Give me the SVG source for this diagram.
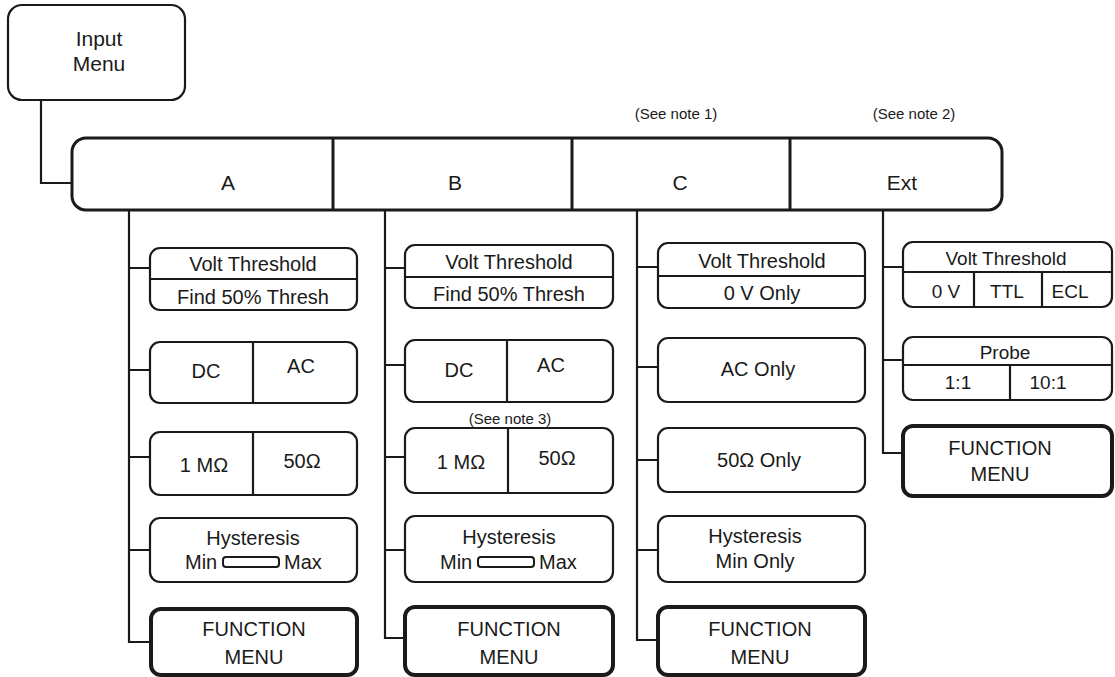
<svg xmlns="http://www.w3.org/2000/svg" width="1115" height="677" viewBox="0 0 1115 677">
<style>
rect.box{fill:#fff;stroke:#1a1a1a;stroke-width:2.2}
rect.fm{stroke-width:4}
rect.bar{stroke-width:3}
line.div{stroke:#1a1a1a;stroke-width:2.2}
line.bdiv{stroke:#1a1a1a;stroke-width:3}
path.conn{fill:none;stroke:#1a1a1a;stroke-width:2.2}
text{font-family:"Liberation Sans",Arial,sans-serif;fill:#1a1a1a;text-anchor:middle}
text.st{text-anchor:start}
.t20{font-size:20px}
.t21{font-size:21px}
.t19{font-size:19px}
.tn{font-size:15px}
rect.slider{fill:#fff;stroke:#1a1a1a;stroke-width:2}
</style>
<rect width="1115" height="677" fill="#fff"/>
<g id="connectors">
<path class="conn" d="M41,100 V183 H72"/>
<path class="conn" d="M129,210 V642 H150 M129,268 H150 M129,370 H150 M129,457 H150 M129,550 H150"/>
<path class="conn" d="M385,210 V638 H405 M385,268 H405 M385,365 H405 M385,457 H405 M385,550 H405"/>
<path class="conn" d="M637,210 V640 H658 M637,267 H658 M637,367 H658 M637,460 H658 M637,550 H658"/>
<path class="conn" d="M883,210 V453 H903 M883,267 H903 M883,360 H903"/>
</g>
<g id="input-menu">
<rect class="box" x="8" y="5" width="177" height="95" rx="14"/>
<text class="t21" x="99" y="46">Input</text>
<text class="t21" x="99" y="71">Menu</text>
</g>
<g id="channel-bar">
<rect class="box bar" x="72" y="138" width="930" height="72" rx="14"/>
<line class="bdiv" x1="333" y1="138" x2="333" y2="210"/>
<line class="bdiv" x1="572" y1="138" x2="572" y2="210"/>
<line class="bdiv" x1="790" y1="138" x2="790" y2="210"/>
<text class="t21" x="228" y="190">A</text>
<text class="t21" x="455" y="190">B</text>
<text class="t21" x="680" y="190">C</text>
<text class="t21" x="902" y="190">Ext</text>
<text class="tn" x="676" y="119">(See note 1)</text>
<text class="tn" x="914" y="119">(See note 2)</text>
</g>
<g id="a-volt">
<rect class="box" x="150" y="248" width="207" height="62" rx="10"/>
<line class="div" x1="150" y1="279" x2="357" y2="279"/>
<text class="t20" x="253" y="271">Volt Threshold</text>
<text class="t20" x="253" y="304">Find 50% Thresh</text>
</g>
<g id="a-coupling">
<rect class="box" x="150" y="342" width="207" height="61" rx="10"/>
<line class="div" x1="253" y1="342" x2="253" y2="403"/>
<text class="t20" x="206" y="378">DC</text>
<text class="t20" x="301" y="373">AC</text>
</g>
<g id="a-impedance">
<rect class="box" x="150" y="432" width="207" height="63" rx="10"/>
<line class="div" x1="253" y1="432" x2="253" y2="495"/>
<text class="t20" x="204" y="472">1 MΩ</text>
<text class="t20" x="302" y="468">50Ω</text>
</g>
<g id="a-hysteresis">
<rect class="box" x="150" y="518" width="207" height="64" rx="10"/>
<text class="t20" x="253" y="545">Hysteresis</text>
<text class="t20 st" x="185" y="569">Min</text>
<rect class="slider" x="223" y="557" width="56" height="10" rx="3"/>
<text class="t20 st" x="284" y="569">Max</text>
</g>
<g id="a-function">
<rect class="box fm" x="151" y="609" width="206" height="66" rx="10"/>
<text class="t20" x="254" y="636">FUNCTION</text>
<text class="t20" x="254" y="664">MENU</text>
</g>
<g id="b-volt">
<rect class="box" x="405" y="245" width="208" height="63" rx="10"/>
<line class="div" x1="405" y1="277" x2="613" y2="277"/>
<text class="t20" x="509" y="269">Volt Threshold</text>
<text class="t20" x="509" y="301">Find 50% Thresh</text>
</g>
<g id="b-coupling">
<rect class="box" x="405" y="340" width="208" height="62" rx="10"/>
<line class="div" x1="507" y1="340" x2="507" y2="402"/>
<text class="t20" x="459" y="377">DC</text>
<text class="t20" x="551" y="372">AC</text>
</g>
<text id="note-3" class="tn" x="510" y="424">(See note 3)</text>
<g id="b-impedance">
<rect class="box" x="405" y="428" width="208" height="65" rx="10"/>
<line class="div" x1="508" y1="428" x2="508" y2="493"/>
<text class="t20" x="461" y="469">1 MΩ</text>
<text class="t20" x="557" y="465">50Ω</text>
</g>
<g id="b-hysteresis">
<rect class="box" x="405" y="516" width="208" height="66" rx="10"/>
<text class="t20" x="509" y="544">Hysteresis</text>
<text class="t20 st" x="440" y="569">Min</text>
<rect class="slider" x="478" y="557" width="56" height="10" rx="3"/>
<text class="t20 st" x="539" y="569">Max</text>
</g>
<g id="b-function">
<rect class="box fm" x="405" y="607" width="208" height="68" rx="10"/>
<text class="t20" x="509" y="636">FUNCTION</text>
<text class="t20" x="509" y="664">MENU</text>
</g>
<g id="c-volt">
<rect class="box" x="658" y="243" width="207" height="65" rx="10"/>
<line class="div" x1="658" y1="276" x2="865" y2="276"/>
<text class="t20" x="762" y="268">Volt Threshold</text>
<text class="t20" x="762" y="300">0 V Only</text>
</g>
<g id="c-coupling">
<rect class="box" x="658" y="338" width="207" height="64" rx="10"/>
<text class="t20" x="758" y="376">AC Only</text>
</g>
<g id="c-impedance">
<rect class="box" x="658" y="428" width="207" height="64" rx="10"/>
<text class="t20" x="759" y="467">50Ω Only</text>
</g>
<g id="c-hysteresis">
<rect class="box" x="658" y="516" width="207" height="66" rx="10"/>
<text class="t20" x="755" y="543">Hysteresis</text>
<text class="t20" x="755" y="568">Min Only</text>
</g>
<g id="c-function">
<rect class="box fm" x="658" y="607" width="207" height="68" rx="10"/>
<text class="t20" x="760" y="636">FUNCTION</text>
<text class="t20" x="760" y="664">MENU</text>
</g>
<g id="ext-volt">
<rect class="box" x="903" y="242" width="209" height="65" rx="10"/>
<line class="div" x1="903" y1="272" x2="1112" y2="272"/>
<line class="div" x1="974" y1="272" x2="974" y2="307"/>
<line class="div" x1="1042" y1="272" x2="1042" y2="307"/>
<text class="t19" x="1006" y="265">Volt Threshold</text>
<text class="t19" x="946" y="298">0 V</text>
<text class="t19" x="1007" y="298">TTL</text>
<text class="t19" x="1070" y="298">ECL</text>
</g>
<g id="ext-probe">
<rect class="box" x="903" y="337" width="209" height="63" rx="10"/>
<line class="div" x1="903" y1="365" x2="1112" y2="365"/>
<line class="div" x1="1010" y1="365" x2="1010" y2="400"/>
<text class="t19" x="1005" y="359">Probe</text>
<text class="t19" x="958" y="389">1:1</text>
<text class="t19" x="1048" y="389">10:1</text>
</g>
<g id="ext-function">
<rect class="box fm" x="903" y="426" width="209" height="70" rx="10"/>
<text class="t20" x="1000" y="455">FUNCTION</text>
<text class="t20" x="1000" y="481">MENU</text>
</g>
</svg>
